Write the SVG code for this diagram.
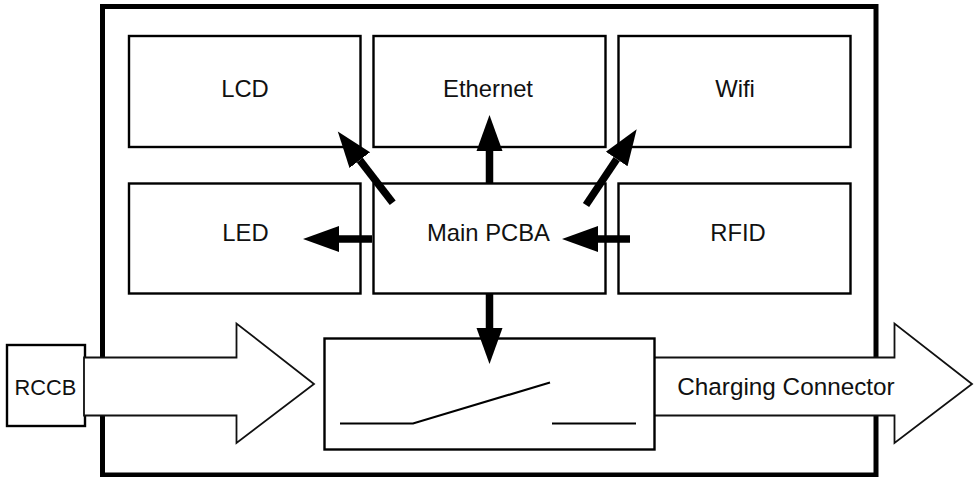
<svg xmlns="http://www.w3.org/2000/svg" width="976" height="477" viewBox="0 0 976 477">
<style>
text{font-family:"Liberation Sans",Arial,sans-serif;font-size:23.8px;fill:#111;text-anchor:middle}
.b{fill:#fff;stroke:#000;stroke-width:2.4}
.big{fill:#fff;stroke:#111;stroke-width:1.8}
.sw{fill:none;stroke:#000;stroke-width:2.2}
.a{fill:none;stroke:#000;stroke-width:7.5;marker-end:url(#h)}
</style>
<defs><marker id="h" markerUnits="userSpaceOnUse" markerWidth="37" markerHeight="28" refX="0" refY="14" orient="auto"><path d="M0 1L36 14L0 27Z" fill="#000"/></marker></defs>
<rect width="976" height="477" fill="#fff"/>
<g id="enclosure"><rect x="102.500" y="6.500" width="773.500" height="468.500" fill="#fff" stroke="#000" stroke-width="5"/></g>
<g id="lcd"><rect class="b" x="129" y="36" width="231.500" height="111"/><text x="245" y="97">LCD</text></g>
<g id="ethernet"><rect class="b" x="373.500" y="36" width="232" height="111"/><text x="488" y="97">Ethernet</text></g>
<g id="wifi"><rect class="b" x="618.500" y="36" width="232" height="111"/><text x="735" y="97">Wifi</text></g>
<g id="led"><rect class="b" x="129" y="183.500" width="231.500" height="110"/><text x="245.500" y="241">LED</text></g>
<g id="main-pcba"><rect class="b" x="373.500" y="183.500" width="232" height="110"/><text x="488.500" y="241">Main PCBA</text></g>
<g id="rfid"><rect class="b" x="618.500" y="183.500" width="232" height="110"/><text x="738" y="241">RFID</text></g>
<g id="rccb"><rect class="b" x="7" y="345" width="78" height="81"/><text x="45.500" y="395" style="font-size:21.800px">RCCB</text></g>
<g id="input-arrow"><path class="big" d="M84 357.500H236.500V323.500L314 384L236.500 443V415.500H84Z"/></g>
<g id="charging-connector"><path class="big" d="M654 357.500H894.500V323.500L972 384L894.500 443V415.500H654Z"/><text x="786" y="395" style="font-size:24.300px">Charging Connector</text></g>
<g id="switch"><rect class="b" x="324.500" y="338.500" width="330" height="111" fill="none"/><path class="sw" d="M340 423.500H413L550 382.500M552 423.500H636"/></g>
<g id="connectors">
<path class="a" d="M489.500 183V151"/>
<path class="a" d="M392.700 202.700L359.800 160.100"/>
<path class="a" d="M586 205L616.700 159.100"/>
<path class="a" d="M372 239H339"/>
<path class="a" d="M630 239H598"/>
<path class="a" d="M489.500 293V328"/>
</g>
</svg>
